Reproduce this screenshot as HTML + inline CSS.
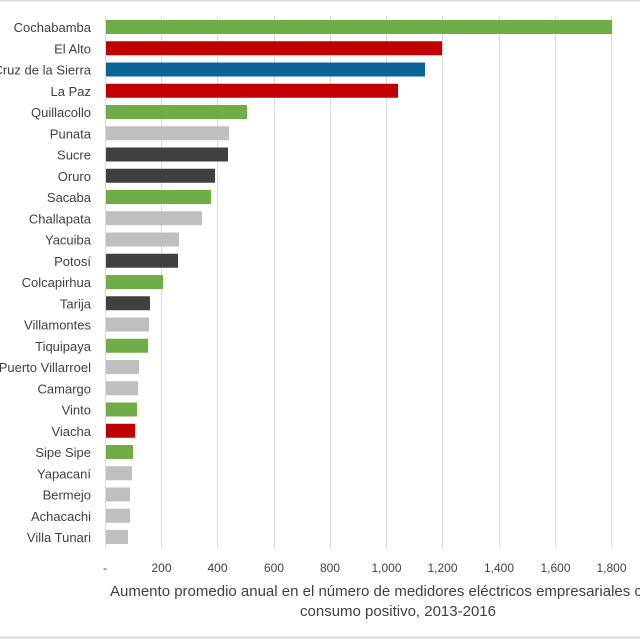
<!DOCTYPE html>
<html><head><meta charset="utf-8"><style>body{margin:0;background:#fff}svg{display:block}text{font-family:"Liberation Sans",sans-serif;fill:#404040}</style></head>
<body>
<svg width="640" height="640" viewBox="0 0 640 640">
<rect x="0" y="0" width="640" height="640" fill="#fff"/>
<line x1="0" y1="0.5" x2="640" y2="0.5" stroke="#d9d9d9" stroke-width="2"/>
<line x1="0" y1="637.5" x2="640" y2="637.5" stroke="#d9d9d9" stroke-width="2"/>
<g stroke="#d9d9d9" stroke-width="1">
<line x1="105.5" y1="16" x2="105.5" y2="548"/>
<line x1="161.5" y1="16" x2="161.5" y2="548"/>
<line x1="217.5" y1="16" x2="217.5" y2="548"/>
<line x1="274.5" y1="16" x2="274.5" y2="548"/>
<line x1="330.5" y1="16" x2="330.5" y2="548"/>
<line x1="386.5" y1="16" x2="386.5" y2="548"/>
<line x1="442.5" y1="16" x2="442.5" y2="548"/>
<line x1="499.5" y1="16" x2="499.5" y2="548"/>
<line x1="555.5" y1="16" x2="555.5" y2="548"/>
<line x1="611.5" y1="16" x2="611.5" y2="548"/>
</g>
<g>
<rect x="106" y="20" width="506" height="14" fill="#70ad47"/>
<rect x="106" y="41.25" width="336" height="14" fill="#c00000"/>
<rect x="106" y="62.5" width="319" height="14" fill="#0a6496"/>
<rect x="106" y="83.75" width="292" height="14" fill="#c00000"/>
<rect x="106" y="105" width="141" height="14" fill="#70ad47"/>
<rect x="106" y="126.25" width="123" height="14" fill="#bfbfbf"/>
<rect x="106" y="147.5" width="122" height="14" fill="#404040"/>
<rect x="106" y="168.75" width="109" height="14" fill="#404040"/>
<rect x="106" y="190" width="105" height="14" fill="#70ad47"/>
<rect x="106" y="211.25" width="96" height="14" fill="#bfbfbf"/>
<rect x="106" y="232.5" width="73" height="14" fill="#bfbfbf"/>
<rect x="106" y="253.75" width="72" height="14" fill="#404040"/>
<rect x="106" y="275" width="57" height="14" fill="#70ad47"/>
<rect x="106" y="296.25" width="44" height="14" fill="#404040"/>
<rect x="106" y="317.5" width="43" height="14" fill="#bfbfbf"/>
<rect x="106" y="338.75" width="42" height="14" fill="#70ad47"/>
<rect x="106" y="360" width="33" height="14" fill="#bfbfbf"/>
<rect x="106" y="381.25" width="32" height="14" fill="#bfbfbf"/>
<rect x="106" y="402.5" width="31" height="14" fill="#70ad47"/>
<rect x="106" y="423.75" width="29" height="14" fill="#c00000"/>
<rect x="106" y="445" width="27" height="14" fill="#70ad47"/>
<rect x="106" y="466.25" width="26" height="14" fill="#bfbfbf"/>
<rect x="106" y="487.5" width="24" height="14" fill="#bfbfbf"/>
<rect x="106" y="508.75" width="24" height="14" fill="#bfbfbf"/>
<rect x="106" y="530" width="22" height="14" fill="#bfbfbf"/>
</g>
<g font-size="13" text-anchor="end">
<text x="91" y="32">Cochabamba</text>
<text x="91" y="53.25">El Alto</text>
<text x="91" y="74.5">Santa Cruz de la Sierra</text>
<text x="91" y="95.75">La Paz</text>
<text x="91" y="117">Quillacollo</text>
<text x="91" y="138.25">Punata</text>
<text x="91" y="159.5">Sucre</text>
<text x="91" y="180.75">Oruro</text>
<text x="91" y="202">Sacaba</text>
<text x="91" y="223.25">Challapata</text>
<text x="91" y="244.5">Yacuiba</text>
<text x="91" y="265.75">Potosí</text>
<text x="91" y="287">Colcapirhua</text>
<text x="91" y="308.25">Tarija</text>
<text x="91" y="329.5">Villamontes</text>
<text x="91" y="350.75">Tiquipaya</text>
<text x="91" y="372">Puerto Villarroel</text>
<text x="91" y="393.25">Camargo</text>
<text x="91" y="414.5">Vinto</text>
<text x="91" y="435.75">Viacha</text>
<text x="91" y="457">Sipe Sipe</text>
<text x="91" y="478.25">Yapacaní</text>
<text x="91" y="499.5">Bermejo</text>
<text x="91" y="520.75">Achacachi</text>
<text x="91" y="542">Villa Tunari</text>
</g>
<g font-size="12" text-anchor="middle">
<text x="105" y="572">-</text>
<text x="161.5" y="572">200</text>
<text x="217.5" y="572">400</text>
<text x="274" y="572">600</text>
<text x="330" y="572">800</text>
<text x="386.5" y="572">1,000</text>
<text x="442.5" y="572">1,200</text>
<text x="499" y="572">1,400</text>
<text x="555.5" y="572">1,600</text>
<text x="611.5" y="572">1,800</text>
</g>
<g font-size="15">
<text x="110" y="596">Aumento promedio anual en el número de medidores eléctricos empresariales con</text>
<text x="398" y="616" text-anchor="middle">consumo positivo, 2013-2016</text>
</g>
</svg>
</body></html>
